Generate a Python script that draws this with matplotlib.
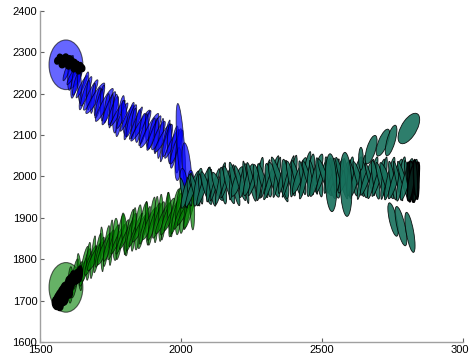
import matplotlib
matplotlib.use("Agg")
import matplotlib.pyplot as plt
from matplotlib.patches import Ellipse

# covariance ellipses: centre x, centre y, width, height, angle (deg)

# initial (prior) ellipses of the blue and green tracks
prior_x = [1592, 1592]
prior_y = [2270, 1732]
prior_w = [120, 120]
prior_h = [120, 120]

# blue track
blue_x = [1600, 1608, 1616, 1624, 1632, 1640, 1648, 1656, 1664, 1672,
          1680, 1688, 1696, 1704, 1712, 1720, 1728, 1736, 1744, 1752,
          1760, 1768, 1776, 1784, 1792, 1800, 1808, 1816, 1824, 1832,
          1840, 1848, 1856, 1864, 1872, 1880, 1888, 1896, 1904, 1912,
          1920, 1928, 1936, 1944, 1952, 1960, 1968, 1976, 1984, 1992,
          1990, 2000, 2021, 2010, 2035, 2055, 2075, 2095]
blue_y = [2262, 2250, 2246, 2234, 2231, 2220, 2217, 2207, 2206, 2197,
          2197, 2189, 2189, 2181, 2181, 2173, 2173, 2165, 2165, 2158,
          2159, 2152, 2153, 2146, 2147, 2140, 2141, 2134, 2135, 2128,
          2129, 2122, 2123, 2116, 2117, 2110, 2111, 2104, 2105, 2098,
          2099, 2092, 2093, 2086, 2087, 2079, 2079, 2071, 2071, 2062,
          2030, 2067, 2017, 1985, 1985, 1975, 1985, 1975]
blue_w = [14, 18, 12, 20, 16, 14, 12, 18, 16, 14,
          18, 12, 20, 14, 16, 12, 20, 14, 18, 12,
          16, 20, 12, 18, 14, 20, 12, 16, 18, 14,
          12, 18, 16, 20, 14, 12, 20, 16, 18, 14,
          20, 14, 18, 12, 20, 16, 14, 20, 18, 20,
          22, 26, 30, 24, 22, 20, 18, 16]
blue_h = [70, 84, 62, 92, 76, 88, 66, 96, 80, 72,
          88, 74, 98, 70, 86, 78, 100, 72, 92, 82,
          76, 94, 80, 102, 72, 88, 78, 96, 84, 76,
          90, 80, 100, 74, 94, 84, 104, 78, 96, 86,
          82, 98, 88, 106, 84, 96, 86, 104, 92, 108,
          80, 220, 130, 70, 60, 50, 40, 40]
blue_ang = [-30, -6, -40, -14, -24, 4, -36, -18, -28, -2,
            -34, -10, -42, -16, -22, 0, -38, -12, -30, -8,
            -26, -4, -40, -14, -32, 6, -36, -20, -24, -10,
            -30, -8, -42, -12, -26, 2, -38, -16, -30, -6,
            -34, -10, -40, -18, -22, 0, -36, -12, -28, -8,
            -5, 6, 8, 10, 0, -10, 5, -8]
# tight cluster where the blue track starts
blue_start_x = [1562, 1572, 1582, 1592, 1602, 1612, 1622, 1632, 1642, 1650, 1580, 1600, 1620, 1636]
blue_start_y = [2280, 2286, 2282, 2288, 2282, 2278, 2274, 2270, 2266, 2262, 2272, 2270, 2262, 2256]
blue_start_w = [20, 22, 24, 20, 24, 22, 20, 22, 20, 18, 24, 22, 20, 18]
blue_start_h = [16, 18, 20, 16, 18, 20, 18, 16, 18, 16, 18, 20, 18, 16]
blue_start_ang = [20, -30, 40, -10, 30, -40, 10, -20, 35, -25, 15, -35, 25, -15]

# green track
green_x = [1600, 1608, 1616, 1624, 1632, 1640, 1648, 1656, 1664, 1672,
           1680, 1688, 1696, 1704, 1712, 1720, 1728, 1736, 1744, 1752,
           1760, 1768, 1776, 1784, 1792, 1800, 1808, 1816, 1824, 1832,
           1840, 1848, 1856, 1864, 1872, 1880, 1888, 1896, 1904, 1912,
           1920, 1928, 1936, 1944, 1952, 1960, 1968, 1976, 1984, 1992,
           2000, 2008, 2016, 2024, 2032, 2040]
green_y = [1728, 1738, 1743, 1754, 1759, 1769, 1773, 1783, 1786, 1795,
           1797, 1805, 1807, 1815, 1817, 1824, 1825, 1832, 1833, 1840,
           1841, 1848, 1848, 1854, 1854, 1860, 1860, 1866, 1866, 1872,
           1871, 1877, 1877, 1882, 1882, 1887, 1886, 1892, 1891, 1896,
           1895, 1900, 1899, 1904, 1903, 1908, 1907, 1912, 1911, 1916,
           1915, 1920, 1919, 1925, 1924, 1930]
green_w = [14, 18, 12, 20, 16, 14, 12, 18, 16, 14,
           18, 12, 20, 14, 16, 12, 20, 14, 18, 12,
           16, 20, 12, 18, 14, 20, 12, 16, 18, 14,
           12, 18, 16, 20, 14, 12, 20, 16, 18, 14,
           20, 14, 18, 12, 20, 16, 14, 20, 18, 20,
           16, 20, 14, 18, 20, 16]
green_h = [74, 88, 68, 96, 80, 90, 72, 100, 84, 92,
           82, 104, 86, 98, 78, 108, 90, 100, 84, 110,
           92, 102, 86, 112, 94, 104, 88, 114, 96, 106,
           94, 110, 88, 116, 98, 106, 90, 118, 100, 112,
           96, 114, 90, 118, 100, 108, 94, 120, 104, 114,
           98, 116, 94, 110, 106, 118]
green_ang = [-24, -2, -34, -12, -28, 6, -36, -16, -20, -6,
             -30, -8, -38, -14, -22, 2, -32, -10, -26, -4,
             -24, -2, -34, -12, -28, 6, -36, -16, -20, -6,
             -30, -8, -38, -14, -22, 2, -32, -10, -26, -4,
             -24, -2, -34, -12, -28, 6, -36, -16, -20, -6,
             -30, -8, -38, -14, -22, 2]
# tight cluster where the green track starts
green_start_x = [1558, 1566, 1574, 1582, 1590, 1598, 1606, 1614, 1622, 1568, 1584, 1600, 1630, 1640]
green_start_y = [1694, 1702, 1710, 1718, 1726, 1734, 1742, 1750, 1756, 1690, 1704, 1722, 1758, 1764]
green_start_w = [28, 32, 30, 34, 30, 28, 30, 28, 24, 26, 30, 28, 24, 20]
green_start_h = [32, 38, 34, 40, 36, 34, 36, 32, 34, 30, 32, 34, 36, 40]
green_start_ang = [30, -20, 40, -30, 20, -40, 10, -10, 30, 45, -45, 35, -15, -10]

# teal track
teal_x = [2010, 2020, 2030, 2040, 2050, 2060, 2070, 2080, 2090, 2100,
          2110, 2120, 2130, 2140, 2150, 2160, 2170, 2180, 2190, 2200,
          2210, 2220, 2230, 2240, 2250, 2260, 2270, 2280, 2290, 2300,
          2310, 2320, 2330, 2340, 2350, 2360, 2370, 2380, 2390, 2400,
          2410, 2420, 2430, 2440, 2450, 2460, 2470, 2480, 2490, 2500,
          2510, 2520, 2530, 2540, 2550, 2560, 2570, 2580, 2590, 2600,
          2610, 2620, 2630, 2640, 2650, 2660, 2670, 2680, 2690, 2700,
          2710, 2720, 2730, 2740, 2750, 2760, 2770, 2780, 2790, 2800,
          2810, 2820]
teal_y = [1960, 1966, 1963, 1970, 1967, 1974, 1970, 1976, 1972, 1978,
          1975, 1980, 1976, 1983, 1978, 1985, 1980, 1986, 1982, 1988,
          1984, 1990, 1986, 1992, 1987, 1993, 1988, 1994, 1990, 1995,
          1991, 1997, 1992, 1998, 1993, 1999, 1994, 2000, 1995, 2001,
          1996, 2002, 1997, 2003, 1997, 2003, 1998, 2003, 1998, 2002,
          1998, 2002, 1997, 2001, 1996, 2001, 1996, 2000, 1995, 2000,
          1995, 1999, 1994, 1998, 1993, 1998, 1993, 1997, 1992, 1997,
          1991, 1996, 1990, 1995, 1990, 1994, 1989, 1994, 1989, 1993,
          1988, 1992]
teal_w = [14, 20, 12, 18, 16, 22, 12, 18, 20, 14,
          18, 12, 22, 16, 18, 12, 20, 14, 18, 24,
          16, 18, 12, 22, 16, 14, 20, 16, 18, 12,
          20, 16, 24, 14, 18, 16, 22, 12, 18, 16,
          18, 22, 14, 18, 16, 20, 12, 24, 18, 14,
          18, 16, 20, 14, 24, 18, 16, 20, 14, 18,
          16, 20, 18, 14, 22, 18, 12, 18, 20, 16,
          18, 14, 22, 18, 16, 20, 14, 18, 16, 22,
          16, 18]
teal_h = [76, 92, 70, 98, 82, 94, 74, 104, 86, 80,
          96, 84, 76, 106, 90, 82, 98, 86, 110, 80,
          92, 84, 104, 82, 98, 90, 84, 106, 88, 96,
          82, 118, 90, 100, 122, 84, 96, 108, 88, 102,
          92, 98, 84, 120, 90, 104, 86, 110, 96, 90,
          100, 88, 106, 92, 98, 84, 108, 90, 100, 96,
          88, 104, 92, 110, 90, 98, 84, 106, 96, 100,
          92, 104, 98, 108, 96, 106, 100, 110, 104, 108,
          106, 104]
teal_ang = [18, -22, 10, -28, 22, -14, 8, -26, 24, -10,
            14, -22, 28, -18, 10, -26, 22, -8, 18, -28,
            24, -14, 10, -22, 18, -28, 14, -10, 22, -18,
            10, -26, 22, -14, 28, -18, 8, -22, 18, -10,
            22, -28, 14, -18, 24, -10, 18, -22, 10, -26,
            28, -14, 18, -26, 10, -18, 22, -28, 14, -10,
            18, -22, 24, -14, 10, -28, 22, -18, 14, -26,
            22, -10, 28, -18, 14, -26, 18, -14, 24, -22,
            18, -18]
# pile-up at the end of the teal track
teal_end_x = [2812, 2818, 2822, 2826, 2830, 2834, 2838, 2824, 2816, 2832]
teal_end_y = [1990, 1986, 1994, 1988, 1992, 1986, 1990, 1996, 1984, 1994]
teal_end_w = [18, 16, 20, 14, 18, 16, 12, 22, 20, 14]
teal_end_h = [90, 96, 86, 100, 92, 98, 90, 84, 88, 94]
teal_end_ang = [8, -8, 12, -4, 6, -10, 0, 14, -12, 4]

# the scattered teal ellipses near the end of the track
stray_x = [2532, 2585, 2638, 2674, 2716, 2745, 2808, 2752, 2780, 2812]
stray_y = [1985, 1981, 2043, 2065, 2082, 2087, 2116, 1896, 1880, 1865]
stray_w = [40, 42, 16, 30, 30, 28, 48, 26, 28, 26]
stray_h = [140, 155, 55, 75, 75, 80, 95, 85, 100, 100]
stray_ang = [3, 3, 0, -26, -33, -24, -47, 19, 19, 15]

BLUE = (0.0, 0.0, 1.0)
GREEN = (0.0, 0.5, 0.0)
TEAL = "#17705c"
AXIS = "#a0a0a0"

plt.rcParams.update({"font.family": "Liberation Sans", "font.size": 8})

fig = plt.figure(figsize=(4.69, 3.58), dpi=100)
ax = fig.add_axes([0.0853, 0.0447, 0.9019, 0.9246])


def draw(xs, ys, ws, hs, angs, face, alpha, lw=0.6):
    for x, y, w, h, a in zip(xs, ys, ws, hs, angs):
        ax.add_patch(Ellipse((x, y), w, h, angle=a, facecolor=face, alpha=alpha,
                             edgecolor="black", linewidth=lw))


draw(prior_x[:1], prior_y[:1], prior_w[:1], prior_h[:1], [0], BLUE, 0.6, lw=0.8)
draw(blue_x, blue_y, blue_w, blue_h, blue_ang, BLUE, 0.7)
draw(blue_start_x, blue_start_y, blue_start_w, blue_start_h, blue_start_ang, "black", 1.0, lw=1.0)
draw(prior_x[1:], prior_y[1:], prior_w[1:], prior_h[1:], [0], GREEN, 0.6, lw=0.8)
draw(green_x, green_y, green_w, green_h, green_ang, GREEN, 0.7)
draw(green_start_x, green_start_y, green_start_w, green_start_h, green_start_ang, "black", 1.0, lw=1.0)
draw(teal_x, teal_y, teal_w, teal_h, teal_ang, TEAL, 0.9)
draw(teal_end_x, teal_end_y, teal_end_w, teal_end_h, teal_end_ang, "#06231c", 1.0, lw=1.0)
draw(stray_x, stray_y, stray_w, stray_h, stray_ang, TEAL, 0.9)

ax.set_xlim(1500, 3000)
ax.set_ylim(1600, 2400)
ax.set_xticks([1500, 2000, 2500, 3000])
ax.set_yticks([1600, 1700, 1800, 1900, 2000, 2100, 2200, 2300, 2400])
ax.spines[["top", "right"]].set_visible(False)
for s in ("left", "bottom"):
    ax.spines[s].set_color(AXIS)
    ax.spines[s].set_linewidth(1.0)
ax.tick_params(direction="in", length=3, color="#606060", labelcolor="black",
               labelsize=8, pad=2)

fig.savefig("out.png", dpi=100)
